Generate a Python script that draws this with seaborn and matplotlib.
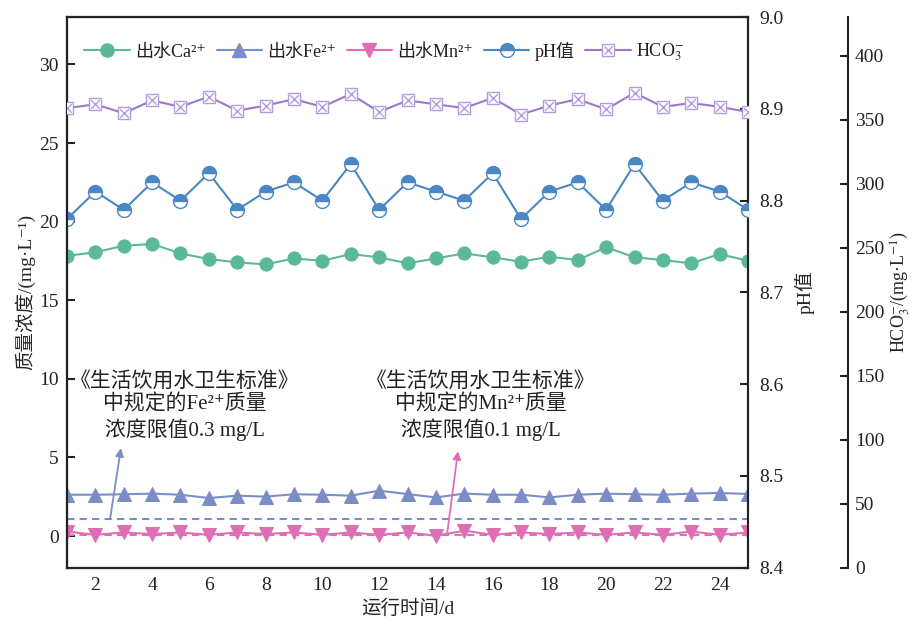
import numpy as np
import pandas as pd
import matplotlib
matplotlib.use("Agg")
import matplotlib.pyplot as plt
from matplotlib.lines import Line2D
import seaborn as sns

# ---------------- data ----------------
days = list(range(1, 26))
ca = [17.83, 18.05, 18.47, 18.58, 17.98, 17.62, 17.41, 17.28, 17.66, 17.51,
      17.94, 17.73, 17.35, 17.66, 17.98, 17.73, 17.45, 17.77, 17.56, 18.37,
      17.73, 17.56, 17.35, 17.94, 17.51]
fe = [2.63, 2.63, 2.66, 2.70, 2.63, 2.42, 2.57, 2.51, 2.66, 2.63,
      2.57, 2.89, 2.67, 2.46, 2.70, 2.63, 2.63, 2.46, 2.63, 2.70,
      2.66, 2.63, 2.70, 2.74, 2.68]
mn = [0.29, 0.08, 0.23, 0.13, 0.23, 0.08, 0.23, 0.13, 0.23, 0.08,
      0.23, 0.08, 0.23, 0.02, 0.34, 0.08, 0.23, 0.13, 0.23, 0.08,
      0.23, 0.08, 0.29, 0.08, 0.23]
ph = [8.78, 8.81, 8.79, 8.82, 8.80, 8.83, 8.79, 8.81, 8.82, 8.80,
      8.84, 8.79, 8.82, 8.81, 8.80, 8.83, 8.78, 8.81, 8.82, 8.79,
      8.84, 8.80, 8.82, 8.81, 8.79]
hco3 = [359, 362, 355, 365, 360, 368, 357, 361, 366, 360,
        370, 356, 365, 362, 359, 367, 354, 361, 366, 358,
        371, 360, 363, 360, 356]
fe_limit_line = 1.1
mn_limit_line = 0.1

legend_labels = ['出水Ca²⁺', '出水Fe²⁺', '出水Mn²⁺', 'pH值', 'HCO$_3^{-}$']
note_fe = '《生活饮用水卫生标准》\n中规定的Fe²⁺质量\n浓度限值0.3 mg/L'
note_mn = '《生活饮用水卫生标准》\n中规定的Mn²⁺质量\n浓度限值0.1 mg/L'

df = pd.DataFrame({'day': days, 'ca': ca, 'fe': fe, 'mn': mn, 'ph': ph, 'hco3': hco3})

# ---------------- style ----------------
sns.set_theme(style='white')
plt.rcParams['font.family'] = ['Liberation Serif', 'Noto Sans CJK SC', 'DejaVu Sans']
plt.rcParams['mathtext.fontset'] = 'stix'
plt.rcParams['axes.unicode_minus'] = False

c_ca = '#5bb99a'
c_fe = '#7b8dc6'
c_mn = '#df6fb4'
c_ph = '#4a87c4'
c_hc = '#9a78cf'
c_hc_m = '#b49be0'

fig = plt.figure(figsize=(9.14, 6.28), dpi=100)
ax = fig.add_axes([0.0733, 0.0963, 0.7451, 0.8762])
ax2 = ax.twinx()
ax3 = ax.twinx()
ax3.spines['right'].set_position(('axes', 1.147))

lw = 1.5
sns.lineplot(data=df, x='day', y='ca', ax=ax, color=c_ca, marker='o', markersize=9.5,
             markeredgecolor=c_ca, lw=lw, zorder=4)
sns.lineplot(data=df, x='day', y='fe', ax=ax, color=c_fe, marker='^', markersize=9.5,
             markeredgecolor=c_fe, lw=lw, zorder=4)
sns.lineplot(data=df, x='day', y='mn', ax=ax, color=c_mn, marker='v', markersize=9.5,
             markeredgecolor=c_mn, lw=lw, zorder=4)
ax.axhline(fe_limit_line, color=c_fe, ls=(0, (3.5, 2.5)), lw=1.5, zorder=3)
ax.axhline(mn_limit_line, color=c_mn, ls=(0, (3.5, 2.5)), lw=1.5, zorder=3)

sns.lineplot(data=df, x='day', y='ph', ax=ax2, color=c_ph, marker='o', markersize=10,
             markeredgecolor=c_ph, markerfacecolor=c_ph, fillstyle='top',
             markerfacecoloralt='white', markeredgewidth=1.0, lw=lw, zorder=4)

sns.lineplot(data=df, x='day', y='hco3', ax=ax3, color=c_hc, marker='s', markersize=8.5,
             markeredgecolor=c_hc_m, markerfacecolor='white', markeredgewidth=1.0, lw=lw, zorder=4)
sns.scatterplot(data=df, x='day', y='hco3', ax=ax3, marker='x', s=40, color=c_hc_m,
                linewidth=1.0, zorder=5)

# ---------------- axes ----------------
ax.set_xlim(1, 25)
ax.set_ylim(-2, 33)
ax2.set_ylim(8.4, 9.0)
ax3.set_ylim(0, 430)
ax.set_xticks(range(2, 25, 2))
ax.set_yticks(range(0, 31, 5))
ax2.set_yticks([8.4, 8.5, 8.6, 8.7, 8.8, 8.9, 9.0])
ax3.set_yticks(range(0, 401, 50))

tick_fs = 14
for a in (ax, ax2, ax3):
    a.tick_params(direction='in', length=6, width=1.5, labelsize=tick_fs, colors='#222222')
    for s in a.spines.values():
        s.set_linewidth(1.5)
        s.set_color('#222222')
ax.tick_params(axis='x', pad=7)
ax.tick_params(axis='y', pad=6)
ax2.tick_params(axis='y', pad=8)
ax3.tick_params(axis='y', pad=5)
ax2.yaxis.set_major_formatter(matplotlib.ticker.FormatStrFormatter('%.1f'))

lab_fs = 14
ax.set_xlabel('运行时间/d', fontsize=lab_fs, labelpad=4)
ax.set_ylabel('质量浓度/(mg·L⁻¹)', fontsize=lab_fs, labelpad=3)
ax2.set_ylabel('pH值', fontsize=lab_fs, labelpad=8)
ax3.set_ylabel('HCO$_3^{-}$/(mg·L$^{-1}$)', fontsize=13, labelpad=3)
for a in (ax, ax2, ax3):
    a.grid(False)

# ---------------- annotations ----------------
ax.annotate('', xy=(2.90, 5.6), xytext=(2.52, 1.1),
            arrowprops=dict(arrowstyle='-|>', color=c_fe, lw=1.3, mutation_scale=12,
                            shrinkA=0, shrinkB=0), zorder=6)
ax.annotate('', xy=(14.78, 5.4), xytext=(14.40, 0.2),
            arrowprops=dict(arrowstyle='-|>', color=c_mn, lw=1.3, mutation_scale=12,
                            shrinkA=0, shrinkB=0), zorder=6)
ax.text(5.15, 8.25, note_fe, ha='center', va='center', fontsize=15, linespacing=1.2,
        color='#222222')
ax.text(15.6, 8.25, note_mn, ha='center', va='center', fontsize=15, linespacing=1.2,
        color='#222222')

# ---------------- legend ----------------
h_ca = Line2D([], [], color=c_ca, marker='o', markersize=9.5, lw=lw)
h_fe = Line2D([], [], color=c_fe, marker='^', markersize=9.5, lw=lw)
h_mn = Line2D([], [], color=c_mn, marker='v', markersize=9.5, lw=lw)
h_ph = Line2D([], [], color=c_ph, marker='o', markersize=10, lw=lw, fillstyle='top',
              markerfacecolor=c_ph, markerfacecoloralt='white', markeredgecolor=c_ph,
              markeredgewidth=1.0)
h_hc1 = Line2D([], [], color=c_hc, marker='s', markersize=8.5, lw=lw,
               markerfacecolor='white', markeredgecolor=c_hc_m, markeredgewidth=1.0)
h_hc2 = Line2D([], [], color=c_hc_m, marker='x', markersize=6, lw=0, markeredgewidth=1.0)
leg = ax.legend([h_ca, h_fe, h_mn, h_ph, (h_hc1, h_hc2)], legend_labels,
                loc='center left', bbox_to_anchor=(0.015, 0.936), ncol=5, frameon=False,
                fontsize=13, handlelength=2.5, handletextpad=0.3, columnspacing=0.6,
                borderaxespad=0)
for t in leg.get_texts():
    t.set_color('#222222')

fig.savefig('out.png', dpi=100)
